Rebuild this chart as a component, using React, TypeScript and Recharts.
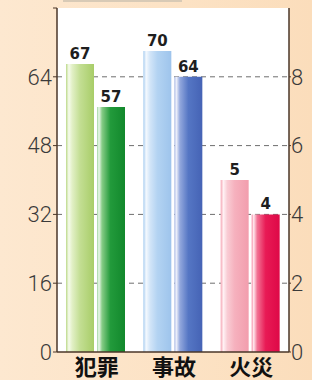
import { BarChart, Bar, XAxis, YAxis, CartesianGrid, Cell } from "recharts";

// categories and values
const categories = ["犯罪", "事故", "火災"];
const firstLeft = [67, 70, null];
const secondLeft = [57, 64, null];
const firstRight = [null, null, 5];
const secondRight = [null, null, 4];

const leftTicks = [0, 16, 32, 48, 64, 80];
const rightTicks = [0, 2, 4, 6, 8];

const data = categories.map((name, i) => ({
  name,
  firstLeft: firstLeft[i],
  secondLeft: secondLeft[i],
  firstRight: firstRight[i],
  secondRight: secondRight[i],
}));

// gradient ids per category for the two bar slots
const FIRST_FILLS = ["url(#gLightGreen)", "url(#gLightBlue)", "url(#gPink)"];
const SECOND_FILLS = ["url(#gDarkGreen)", "url(#gDarkBlue)", "url(#gRed)"];

const AXIS_COLOR = "#4a3628";
const TICK_FONT = "Roboto, 'Liberation Sans', sans-serif";

function Grad({ id, stops }: { id: string; stops: [number, string][] }) {
  return (
    <linearGradient id={id} x1="0" y1="0" x2="1" y2="0">
      {stops.map(([o, c], i) => (
        <stop key={i} offset={`${o}%`} stopColor={c} />
      ))}
    </linearGradient>
  );
}

function BarValueLabel(props: any) {
  const { x, y, width, height, value } = props;
  const v = Array.isArray(value) ? value[1] - value[0] : value;
  if (v == null || !height || Number.isNaN(v) || v === 0) return null;
  return (
    <text
      x={x + width / 2}
      y={y - 5}
      textAnchor="middle"
      fontFamily="'DejaVu Sans', sans-serif"
      fontWeight={700}
      fontSize={15}
      fill="#1e1e1e"
    >
      {v}
    </text>
  );
}

function CategoryTick(props: any) {
  const { x, payload } = props;
  return (
    <text
      x={x + 1}
      y={375}
      textAnchor="middle"
      fontFamily="'Noto Sans CJK JP', sans-serif"
      fontWeight={700}
      fontSize={22}
      fill="#111"
    >
      {payload.value}
    </text>
  );
}

export default function App() {
  return (
    <div
      style={{
        position: "absolute",
        left: 0,
        top: 0,
        width: 312,
        height: 380,
        background: "linear-gradient(90deg, #fde8d0 0%, #fce2c4 60%, #fbddbb 100%)",
        overflow: "hidden",
      }}
    >
      <div
        style={{
          position: "absolute",
          left: 63,
          top: 0,
          width: 119,
          height: 2,
          background: "#d8cab6",
        }}
      />
      <BarChart
        width={312}
        height={380}
        data={data}
        margin={{ top: 8, right: 0, bottom: 0, left: 0 }}
        barSize={28}
        barGap={3}
      >
        <defs>
          <Grad id="gLightGreen" stops={[[0, "#bcd98a"], [10, "#f6fbec"], [22, "#e2f0c6"], [50, "#c3de93"], [100, "#a8cd68"]]} />
          <Grad id="gDarkGreen" stops={[[0, "#9ed69e"], [7, "#eef8ee"], [18, "#86cc86"], [48, "#229a3b"], [100, "#12882c"]]} />
          <Grad id="gLightBlue" stops={[[0, "#a8cdf0"], [10, "#f4f9fe"], [24, "#d2e5f8"], [50, "#b3d3f2"], [100, "#9ec4ec"]]} />
          <Grad id="gDarkBlue" stops={[[0, "#a6b7e4"], [7, "#f0f2fb"], [20, "#93a8dd"], [50, "#5576c4"], [100, "#4563b5"]]} />
          <Grad id="gPink" stops={[[0, "#f5a7b5"], [10, "#fff1f4"], [24, "#f9ccd4"], [50, "#f6b1be"], [100, "#f29dad"]]} />
          <Grad id="gRed" stops={[[0, "#f58aa5"], [7, "#ffe8ee"], [20, "#f27193"], [50, "#e81a55"], [100, "#de0847"]]} />
        </defs>
        <CartesianGrid
          yAxisId="left"
          vertical={false}
          horizontalValues={[16, 32, 48, 64]}
          stroke="#6e6e6e"
          strokeDasharray="5 4"
          fill="#ffffff"
          fillOpacity={1}
        />
        <XAxis
          dataKey="name"
          height={28}
          tickLine={false}
          axisLine={{ stroke: AXIS_COLOR, strokeWidth: 1.5 }}
          tick={<CategoryTick />}
          interval={0}
        />
        <YAxis
          yAxisId="left"
          orientation="left"
          width={57}
          domain={[0, 80]}
          ticks={leftTicks}
          interval={0}
          tickSize={4}
          tickMargin={1}
          tickFormatter={(v: number) => (v === 80 ? "" : String(v))}
          axisLine={{ stroke: AXIS_COLOR, strokeWidth: 1.5 }}
          tickLine={{ stroke: AXIS_COLOR }}
          tick={{ fill: "#3a3a3a", fontSize: 22, fontFamily: TICK_FONT, fontWeight: 300 }}
        />
        <YAxis
          yAxisId="right"
          orientation="right"
          width={23}
          domain={[0, 10]}
          ticks={rightTicks}
          interval={0}
          tickSize={2}
          tickMargin={0}
          axisLine={{ stroke: AXIS_COLOR, strokeWidth: 1.5 }}
          tickLine={{ stroke: AXIS_COLOR }}
          tick={{ fill: "#3a3a3a", fontSize: 22, fontFamily: TICK_FONT, fontWeight: 300 }}
        />
        <Bar dataKey="firstLeft" yAxisId="left" stackId="first" isAnimationActive={false} label={<BarValueLabel />}>
          {data.map((_, i) => (
            <Cell key={i} fill={FIRST_FILLS[i]} />
          ))}
        </Bar>
        <Bar dataKey="firstRight" yAxisId="right" stackId="first" isAnimationActive={false} label={<BarValueLabel />}>
          {data.map((_, i) => (
            <Cell key={i} fill={FIRST_FILLS[i]} />
          ))}
        </Bar>
        <Bar dataKey="secondLeft" yAxisId="left" stackId="second" isAnimationActive={false} label={<BarValueLabel />}>
          {data.map((_, i) => (
            <Cell key={i} fill={SECOND_FILLS[i]} />
          ))}
        </Bar>
        <Bar dataKey="secondRight" yAxisId="right" stackId="second" isAnimationActive={false} label={<BarValueLabel />}>
          {data.map((_, i) => (
            <Cell key={i} fill={SECOND_FILLS[i]} />
          ))}
        </Bar>
      </BarChart>
    </div>
  );
}
